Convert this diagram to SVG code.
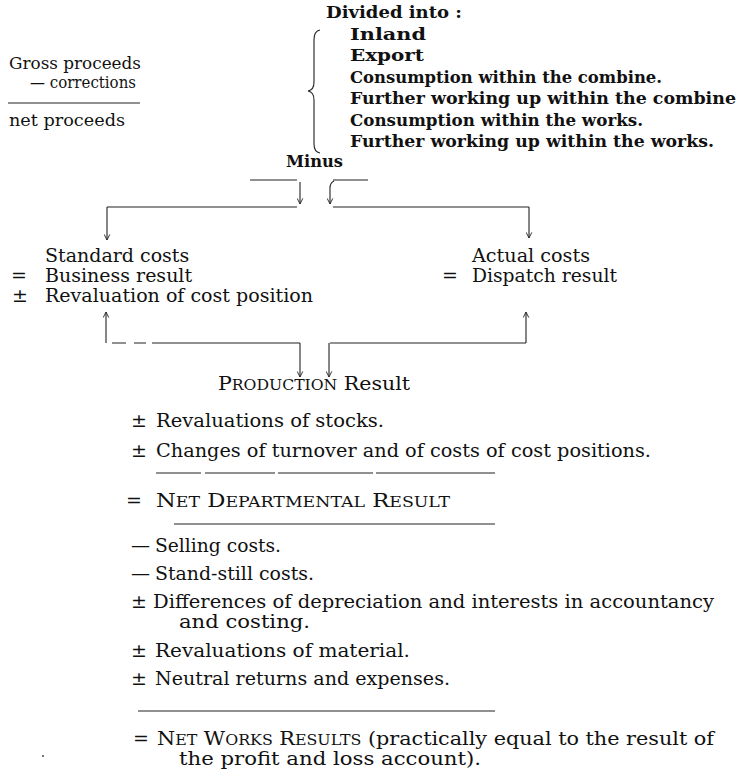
<svg xmlns="http://www.w3.org/2000/svg" width="738" height="770" viewBox="0 0 738 770">
<style>
text{font-family:"DejaVu Serif","Liberation Serif",serif;fill:#111;font-size:19px}
.b{font-weight:bold;font-size:17px}
.s{font-size:17.5px}
.sc{font-size:14.5px}
.ln{stroke:#222;stroke-width:1.1;fill:none}
.ar{stroke:#222;stroke-width:1.1;fill:none;marker-end:url(#ah)}
</style>
<defs>
<marker id="ah" viewBox="0 0 10 10" refX="9" refY="5" markerWidth="7" markerHeight="7" orient="auto" markerUnits="userSpaceOnUse">
<path d="M1,1 L9,5 L1,9" fill="none" stroke="#222" stroke-width="1.3"/>
</marker>
</defs>
<rect width="738" height="770" fill="#fff"/>

<g id="proceeds">
<text class="s" x="9" y="69" textLength="132" lengthAdjust="spacingAndGlyphs">Gross proceeds</text>
<text class="s" x="30" y="88" textLength="106" lengthAdjust="spacingAndGlyphs">— corrections</text>
<line class="ln" x1="8" y1="103" x2="140" y2="103"/>
<text class="s" x="9" y="126" textLength="116" lengthAdjust="spacingAndGlyphs">net proceeds</text>
</g>

<g id="divided">
<text class="b" x="326" y="18" textLength="136" lengthAdjust="spacingAndGlyphs">Divided into :</text>
<path class="ln" d="M320,30 Q314,31 314,40 L314,82 Q314,90 308,91 Q314,92 314,100 L314,144 Q314,152 320,153"/>
<text class="b" x="350" y="39.5" textLength="76" lengthAdjust="spacingAndGlyphs">Inland</text>
<text class="b" x="350" y="61" textLength="74" lengthAdjust="spacingAndGlyphs">Export</text>
<text class="b" x="350" y="82.5" textLength="312" lengthAdjust="spacingAndGlyphs">Consumption within the combine.</text>
<text class="b" x="350" y="104" textLength="386" lengthAdjust="spacingAndGlyphs">Further working up within the combine</text>
<text class="b" x="350" y="125.5" textLength="293" lengthAdjust="spacingAndGlyphs">Consumption within the works.</text>
<text class="b" x="350" y="147" textLength="364" lengthAdjust="spacingAndGlyphs">Further working up within the works.</text>
</g>

<g id="minus">
<text class="b" x="286" y="167" textLength="57" lengthAdjust="spacingAndGlyphs">Minus</text>
</g>

<g id="standard">
<text x="45" y="262">Standard costs</text>
<text x="11" y="282">=</text>
<text x="45" y="282">Business result</text>
<text x="12" y="302">±</text>
<text x="45" y="302" textLength="268" lengthAdjust="spacingAndGlyphs">Revaluation of cost position</text>
</g>

<g id="actual">
<text x="472" y="262" textLength="118" lengthAdjust="spacingAndGlyphs">Actual costs</text>
<text x="442" y="282">=</text>
<text x="472" y="282" textLength="145" lengthAdjust="spacingAndGlyphs">Dispatch result</text>
</g>

<g id="production">
<text x="218" y="390" textLength="192" lengthAdjust="spacingAndGlyphs">P<tspan class="sc">RODUCTION</tspan> Result</text>
</g>

<g id="departmental">
<text x="131" y="427">±</text>
<text x="156" y="427" textLength="228" lengthAdjust="spacingAndGlyphs">Revaluations of stocks.</text>
<text x="131" y="457">±</text>
<text x="156" y="457" textLength="495" lengthAdjust="spacingAndGlyphs">Changes of turnover and of costs of cost positions.</text>
<line class="ln" x1="156" y1="473" x2="495" y2="473" stroke-dasharray="45,4,70,3,95,3,120"/>
<text x="126" y="507">=</text>
<text x="156" y="507" textLength="294" lengthAdjust="spacingAndGlyphs">N<tspan class="sc">ET</tspan> D<tspan class="sc">EPARTMENTAL</tspan> R<tspan class="sc">ESULT</tspan></text>
<line class="ln" x1="174" y1="524" x2="495" y2="524"/>
</g>

<g id="works">
<text x="131" y="552">—</text>
<text x="155" y="552" textLength="126" lengthAdjust="spacingAndGlyphs">Selling costs.</text>
<text x="131" y="580">—</text>
<text x="155" y="580" textLength="159" lengthAdjust="spacingAndGlyphs">Stand-still costs.</text>
<text x="131" y="608">±</text>
<text x="153" y="608" textLength="561" lengthAdjust="spacingAndGlyphs">Differences of depreciation and interests in accountancy</text>
<text x="179" y="628" textLength="131" lengthAdjust="spacingAndGlyphs">and costing.</text>
<text x="131" y="657">±</text>
<text x="155" y="657" textLength="255" lengthAdjust="spacingAndGlyphs">Revaluations of material.</text>
<text x="131" y="685">±</text>
<text x="155" y="685" textLength="295" lengthAdjust="spacingAndGlyphs">Neutral returns and expenses.</text>
<line class="ln" x1="138" y1="711" x2="495" y2="711"/>
<text x="133" y="745">=</text>
<text x="157" y="745" textLength="557" lengthAdjust="spacingAndGlyphs">N<tspan class="sc">ET</tspan> W<tspan class="sc">ORKS</tspan> R<tspan class="sc">ESULTS</tspan> (practically equal to the result of</text>
<text x="179" y="765" textLength="302" lengthAdjust="spacingAndGlyphs">the profit and loss account).</text>
<circle cx="43" cy="756" r="1" fill="#444"/>
</g>

<g id="connectors">
<line class="ln" x1="250" y1="180" x2="297" y2="180"/>
<line class="ln" x1="333" y1="180" x2="368" y2="180"/>
<line class="ar" x1="300" y1="182" x2="300" y2="204"/>
<path class="ar" d="M334,181 Q330,183 330,188 L330,204"/>
<line class="ln" x1="107" y1="207" x2="297" y2="207"/>
<line class="ln" x1="333" y1="207" x2="529" y2="207"/>
<line class="ar" x1="107" y1="207" x2="107" y2="240"/>
<line class="ar" x1="529" y1="207" x2="529" y2="238"/>
<line class="ar" x1="106" y1="343" x2="106" y2="312"/>
<line class="ar" x1="526" y1="343" x2="526" y2="312"/>
<line class="ln" x1="112" y1="343" x2="300" y2="343" stroke-dasharray="14,8,12,6,160"/>
<line class="ln" x1="330" y1="343" x2="526" y2="343"/>
<line class="ar" x1="300" y1="343" x2="300" y2="377"/>
<line class="ar" x1="329" y1="343" x2="329" y2="377"/>
</g>
</svg>
